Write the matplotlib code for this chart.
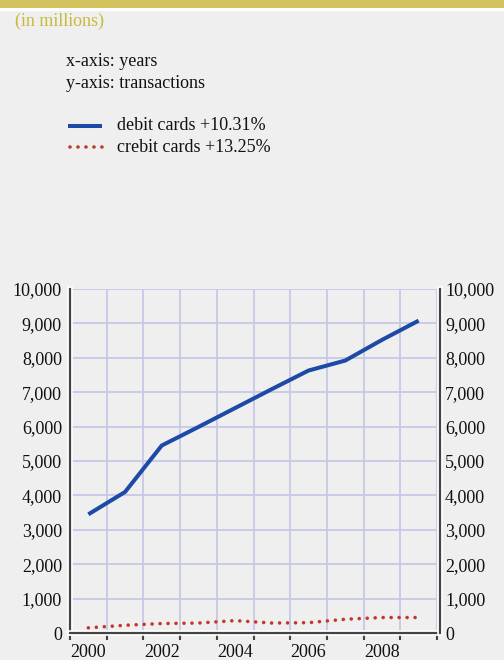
import matplotlib
matplotlib.use("Agg")
import matplotlib.pyplot as plt
from matplotlib.patches import Rectangle
from matplotlib.lines import Line2D
import matplotlib.patheffects as pe

years = [2000, 2001, 2002, 2003, 2004, 2005, 2006, 2007, 2008, 2009]
debit = [3450, 4100, 5450, 5990, 6540, 7090, 7630, 7920, 8520, 9080]
credit = [150, 225, 275, 290, 360, 290, 300, 400, 450, 450]
yticks = [0, 1000, 2000, 3000, 4000, 5000, 6000, 7000, 8000, 9000, 10000]
xlabels = [2000, 2002, 2004, 2006, 2008]
debit_label = "debit cards +10.31%"
credit_label = "crebit cards +13.25%"

BG = "#efefef"
GOLD = "#d2c35e"
BLUE = "#1c4aa6"
RED = "#c0392b"
GRID = "#c3c6e6"
SPINE = "#444444"
FONT = "Liberation Serif"
FS = 13

W, H = 504, 660
fig = plt.figure(figsize=(W / 100, H / 100), dpi=100, facecolor=BG)
plt.rcParams['font.family'] = [FONT, 'DejaVu Serif']

def fx(px):
    return px / W

def fy(py):
    return 1 - py / H

DOTS = dict(color=RED, lw=2.6, linestyle=(0, (0.01, 2.2)), dash_capstyle='round')

# top band
fig.patches.append(Rectangle((0, fy(7.5)), 1, 7.5 / H, transform=fig.transFigure,
                             facecolor=GOLD, edgecolor='none'))
fig.patches.append(Rectangle((0, fy(10.5)), 1, 3 / H, transform=fig.transFigure,
                             facecolor='white', edgecolor='none'))

fig.text(fx(15), fy(21), "(in millions)", color="#c9b93a", fontsize=FS,
         va='center', ha='left')
fig.text(fx(66), fy(62), "x-axis: years", color="#111111", fontsize=FS, va='center')
fig.text(fx(66), fy(83), "y-axis: transactions", color="#111111", fontsize=FS, va='center')

# legend (manual)
fig.add_artist(Line2D([fx(68), fx(102)], [fy(126), fy(126)], transform=fig.transFigure,
                      color=BLUE, lw=2.9, solid_capstyle='butt'))
fig.add_artist(Line2D([fx(70), fx(102)], [fy(147), fy(147)], transform=fig.transFigure,
                      **DOTS))
fig.text(fx(117), fy(126), debit_label, color="#111111", fontsize=FS, va='center')
fig.text(fx(117), fy(147), credit_label, color="#111111", fontsize=FS, va='center')

ax = fig.add_axes([fx(70), fy(633), (437 - 70) / W, (633 - 289) / H])
ax.set_facecolor(BG)
ax.plot(years, debit, color=BLUE, lw=2.9, solid_capstyle='butt', solid_joinstyle='miter', zorder=3)
ax.plot(years, credit, zorder=3, **DOTS)

ax.set_xlim(1999.5, 2009.5)
ax.set_ylim(0, 10000)

minor = [y - 0.5 for y in years] + [years[-1] + 0.5]
ax.set_xticks(xlabels)
ax.set_xticklabels([str(v) for v in xlabels])
ax.set_xticks(minor, minor=True)
ax.tick_params(axis='x', which='major', length=0, pad=8, labelsize=FS, labelcolor='#111111')
ax.tick_params(axis='x', which='minor', length=5, width=1.5, color=SPINE, direction='out')
ax.set_yticks(yticks)
ax.set_yticklabels([f"{v:,}" for v in yticks])
ax.tick_params(axis='y', length=0, pad=5.8, labelsize=FS, labelcolor='#111111')
ax.grid(True, which='minor', axis='x', color=GRID, lw=1.2)
ax.grid(True, which='major', axis='y', color=GRID, lw=1.2)
ax.set_axisbelow(True)

ax2 = ax.twinx()
ax2.set_ylim(ax.get_ylim())
ax2.set_yticks(yticks)
ax2.set_yticklabels([f"{v:,}" for v in yticks])
ax2.tick_params(axis='y', length=0, pad=3.5, labelsize=FS, labelcolor='#111111')

shadow = [pe.Stroke(linewidth=4, foreground='white'), pe.Normal()]
for s in ['left', 'bottom']:
    ax.spines[s].set_color(SPINE)
    ax.spines[s].set_linewidth(1.6)
    ax.spines[s].set_path_effects(shadow)
for s in ['top', 'right']:
    ax.spines[s].set_visible(False)
for s in ['top', 'left', 'bottom']:
    ax2.spines[s].set_visible(False)
ax2.spines['right'].set_color(SPINE)
ax2.spines['right'].set_linewidth(1.6)
ax2.spines['right'].set_path_effects(shadow)
ax2.spines['right'].set_position(('outward', 2.2))

fig.savefig("out.png", dpi=100, facecolor=BG)
